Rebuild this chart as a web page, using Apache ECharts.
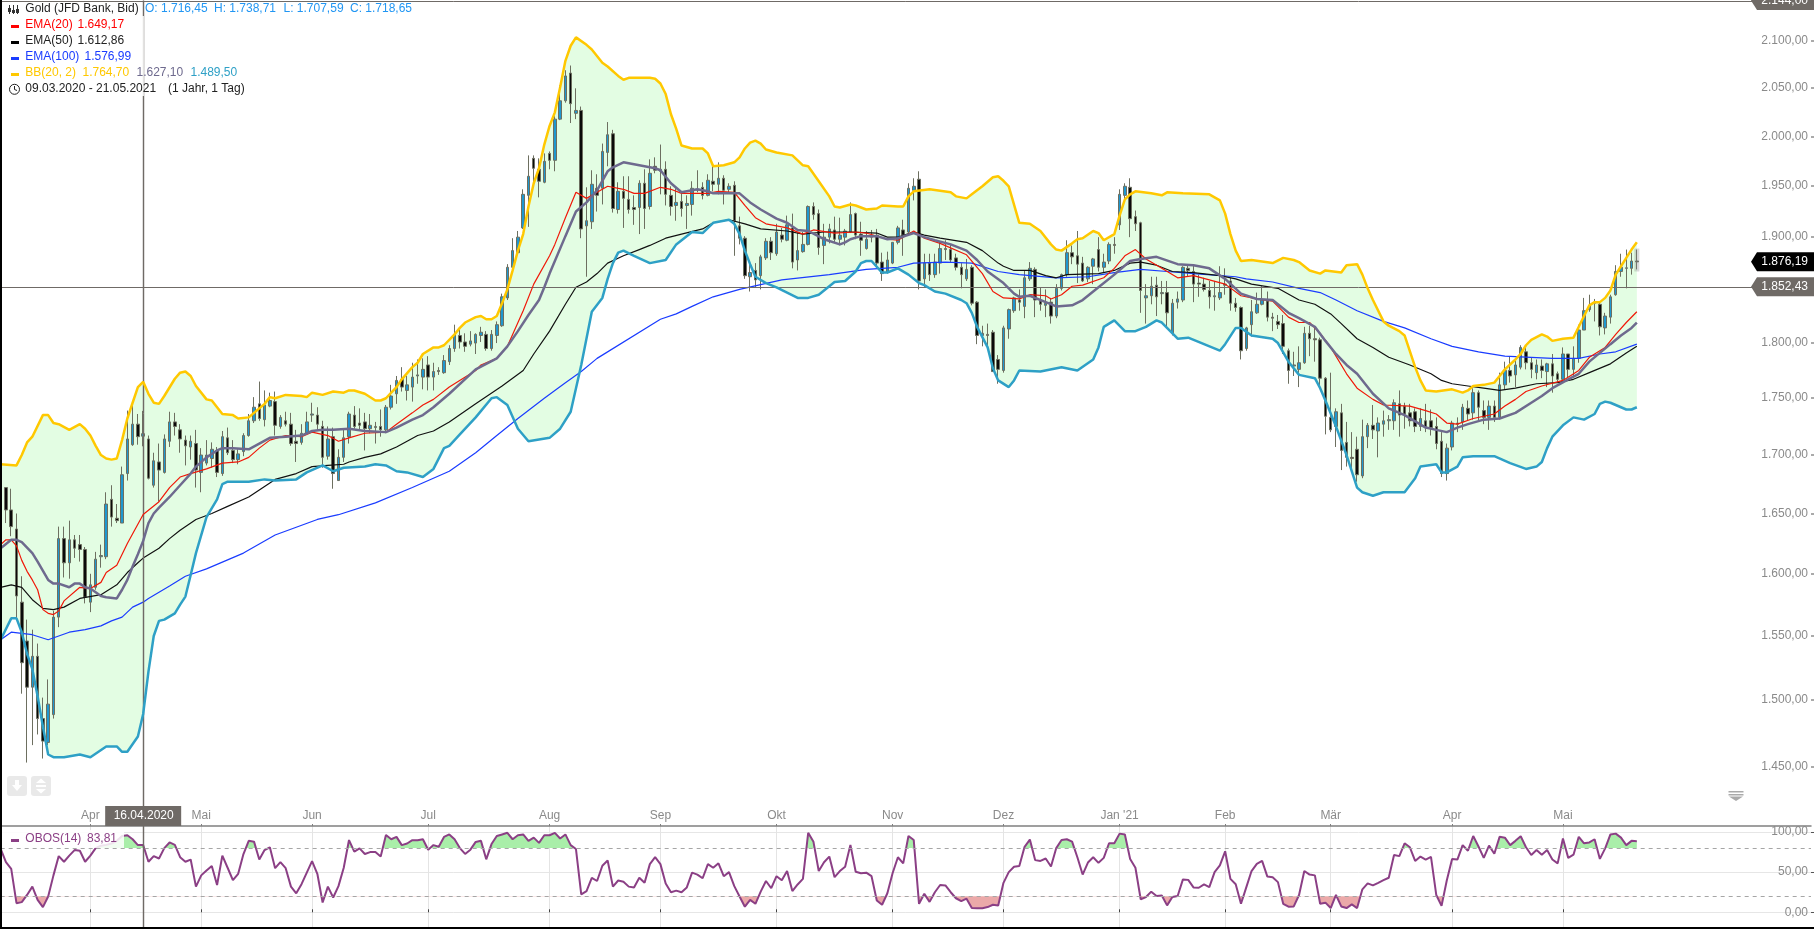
<!DOCTYPE html>
<html><head><meta charset="utf-8"><style>html,body{margin:0;padding:0;background:#fff}#c{width:1814px;height:929px}</style>
<script src="https://cdn.jsdelivr.net/npm/echarts@6/dist/echarts.min.js"></script></head>
<body><div id="c"></div><script>
const tickIndex=[17,38,59,81,104,125,147,169,190,212,232,252,275,296];
const tickLabels=['Apr','Mai','Jun','Jul','Aug','Sep','Okt','Nov','Dez',"Jan '21",'Feb','Mär','Apr','Mai'];
const priceTicks=[1450,1500,1550,1600,1650,1700,1750,1800,1850,1900,1950,2000,2050,2100];
// rows: open, close, high, low
const candles=[
[1698,1672,1702,1658],[1672,1653,1672,1642],[1653,1639,1671,1631],[1637,1582,1650,1564],[1577,1529,1598,1505],[1546,1510,1563,1453],[1510,1534,1555,1466],[1534,1486,1544,1474],[1486,1469,1502,1456],[1468,1497,1516,1466],
[1489,1565,1570,1486],[1565,1629,1639,1557],[1629,1609,1639,1597],[1609,1628,1644,1596],[1628,1621,1632,1613],[1624,1620,1632,1610],[1620,1581,1622,1576],[1577,1591,1600,1569],[1589,1612,1618,1587],[1614,1615,1624,1605],
[1614,1658,1668,1612],[1662,1647,1674,1639],[1646,1644,1658,1642],[1642,1683,1690,1642],[1684,1714,1739,1678],[1709,1727,1745,1708],[1727,1716,1736,1709],[1716.45,1718.65,1738.71,1707.59],[1714,1680,1717,1679],[1674,1695,1702,1672],
[1694,1687,1710,1660],[1685,1714,1718,1684],[1712,1729,1738,1707],[1729,1725,1737,1717],[1722,1714,1727,1702],[1713,1708,1717,1691],[1707,1712,1717,1696],[1710,1687,1722,1672],[1685,1700,1706,1668],[1693,1700,1713,1691],
[1697,1705,1711,1689],[1704,1685,1707,1681],[1684,1716,1721,1682],[1715,1702,1724,1700],[1704,1696,1713,1693],[1696,1701,1705,1692],[1703,1717,1719,1699],[1717,1730,1736,1716],[1730,1742,1751,1728],[1745,1732,1765,1730],
[1731,1744,1757,1725],[1743,1748,1755,1742],[1747,1726,1756,1717],[1725,1733,1735,1723],[1730,1727,1738,1725],[1727,1710,1737,1708],[1712,1710,1722,1694],[1711,1719,1727,1709],[1719,1729,1738,1718],[1735,1736,1746,1729],
[1735,1727,1742,1722],[1725,1698,1730,1689],[1699,1714,1725,1696],[1716,1684,1724,1671],[1678,1698,1705,1678],[1698,1715,1723,1694],[1716,1736,1738,1710],[1735,1725,1743,1723],[1728,1726,1741,1722],[1729,1723,1737,1704],
[1723,1726,1736,1719],[1724,1725,1729,1710],[1725,1722,1740,1716],[1722,1742,1744,1719],[1742,1752,1762,1740],[1754,1766,1770,1745],[1767,1760,1778,1756],[1757,1762,1770,1748],[1760,1769,1782,1747],[1770,1771,1785,1763],
[1769,1776,1786,1758],[1780,1769,1788,1757],[1769,1774,1782,1757],[1775,1774,1778,1771],[1773,1784,1789,1772],[1783,1795,1798,1780],[1795,1808,1817,1792],[1807,1801,1814,1795],[1801,1797,1809,1792],[1799,1802,1811,1797],
[1800,1808,1809,1790],[1807,1810,1815,1801],[1808,1795,1811,1793],[1795,1808,1812,1793],[1807,1817,1820,1800],[1816,1843,1846,1815],[1842,1871,1874,1840],[1871,1887,1899,1869],[1885,1900,1906,1884],[1909,1942,1947,1908],
[1941,1960,1981,1910],[1978,1968,1981,1951],[1967,1955,1978,1939],[1954,1975,1983,1953],[1983,1976,1985,1967],[1976,2018,2021,1965],[2018,2037,2053,2017],[2037,2063,2069,2035],[2066,2034,2074,2014],[2024,2027,2050,2018],
[2027,1908,2031,1899],[1911,1916,1949,1862],[1915,1952,1966,1908],[1948,1941,1962,1925],[1948,1985,1993,1932],[1984,2002,2015,1970],[2003,1928,2007,1924],[1927,1945,1954,1923],[1945,1938,1960,1909],[1937,1927,1960,1923],
[1929,1927,1941,1912],[1929,1953,1956,1903],[1953,1928,1967,1908],[1930,1963,1977,1927],[1970,1966,1979,1963],[1965,1967,1992,1942],[1967,1942,1975,1931],[1941,1930,1950,1921],[1931,1934,1948,1916],[1935,1928,1945,1920],
[1931,1933,1941,1908],[1932,1948,1955,1921],[1946,1947,1966,1944],[1949,1941,1954,1937],[1941,1956,1962,1940],[1955,1952,1970,1945],[1952,1958,1974,1942],[1958,1946,1961,1932],[1947,1950,1953,1944],[1951,1916,1955,1882],
[1911,1899,1920,1893],[1899,1863,1901,1860],[1862,1866,1876,1848],[1868,1859,1875,1852],[1863,1881,1883,1850],[1880,1896,1899,1878],[1896,1885,1900,1878],[1884,1905,1913,1882],[1902,1898,1909,1895],[1897,1912,1921,1896],
[1909,1876,1923,1870],[1878,1887,1905,1868],[1886,1893,1905,1885],[1893,1930,1931,1892],[1930,1922,1934,1917],[1923,1890,1927,1883],[1892,1900,1913,1874],[1900,1908,1913,1894],[1907,1898,1920,1895],[1898,1902,1919,1892],
[1900,1906,1908,1892],[1905,1922,1934,1904],[1923,1902,1924,1898],[1903,1897,1915,1882],[1889,1898,1906,1888],[1900,1901,1907,1895],[1902,1875,1908,1872],[1876,1865,1885,1858],[1866,1878,1886,1865],[1875,1895,1895,1874],
[1895,1909,1911,1893],[1907,1902,1917,1882],[1905,1948,1953,1904],[1946,1950,1958,1936],[1957,1858,1965,1850],[1860,1875,1884,1852],[1875,1864,1884,1858],[1864,1876,1884,1861],[1875,1889,1896,1865],[1889,1888,1897,1878],
[1888,1878,1893,1876],[1880,1871,1884,1868],[1871,1864,1875,1851],[1860,1869,1879,1858],[1871,1837,1873,1835],[1838,1807,1839,1799],[1807,1809,1816,1797],[1808,1807,1818,1795],[1810,1774,1812,1774],[1785,1776,1789,1763],
[1775,1814,1816,1773],[1813,1831,1832,1804],[1830,1842,1843,1828],[1840,1838,1850,1830],[1834,1861,1868,1823],[1860,1870,1876,1858],[1869,1840,1871,1824],[1839,1836,1852,1830],[1835,1837,1850,1824],[1838,1825,1842,1818],
[1825,1851,1855,1823],[1851,1864,1865,1849],[1864,1885,1897,1862],[1885,1881,1892,1874],[1882,1874,1906,1856],[1875,1858,1881,1857],[1860,1871,1872,1857],[1872,1879,1880,1855],[1888,1871,1900,1867],[1871,1876,1884,1866],
[1877,1893,1895,1874],[1893,1892,1900,1884],[1912,1942,1947,1907],[1941,1950,1953,1936],[1949,1918,1958,1900],[1920,1913,1926,1906],[1914,1849,1915,1828],[1842,1844,1855,1818],[1844,1853,1862,1836],[1854,1843,1862,1825],
[1846,1847,1858,1836],[1847,1828,1858,1815],[1809,1837,1841,1807],[1838,1841,1848,1832],[1840,1871,1872,1838],[1870,1868,1873,1862],[1867,1855,1873,1838],[1856,1855,1864,1843],[1855,1850,1861,1848],[1849,1843,1858,1832],
[1843,1844,1858,1830],[1842,1847,1872,1840],[1855,1854,1870,1845],[1858,1837,1861,1830],[1837,1833,1842,1829],[1833,1793,1834,1785],[1795,1814,1815,1793],[1817,1829,1840,1806],[1828,1836,1847,1827],[1836,1840,1853,1835],
[1839,1824,1848,1820],[1824,1823,1828,1811],[1820,1817,1826,1813],[1818,1797,1826,1790],[1793,1775,1795,1763],[1779,1780,1792,1770],[1776,1782,1797,1760],[1782,1809,1815,1781],[1809,1804,1816,1788],[1804,1803,1815,1783],
[1803,1768,1805,1761],[1768,1734,1769,1718],[1733,1722,1773,1720],[1725,1738,1741,1707],[1737,1704,1745,1687],[1711,1698,1729,1690],[1698,1697,1720,1687],[1705,1683,1716,1677],[1682,1716,1731,1680],[1716,1726,1728,1706],
[1726,1722,1744,1714],[1721,1728,1733,1698],[1727,1730,1739,1716],[1730,1731,1735,1722],[1730,1746,1749,1722],[1745,1735,1757,1716],[1743,1736,1746,1723],[1737,1730,1745,1725],[1738,1725,1741,1720],[1725,1732,1741,1721],
[1730,1724,1745,1720],[1730,1724,1740,1717],[1725,1710,1733,1705],[1712,1684,1720,1681],[1684,1706,1710,1678],[1707,1728,1730,1704],[1728,1727,1733,1720],[1729,1742,1745,1722],[1741,1736,1748,1730],[1737,1755,1759,1731],
[1755,1742,1757,1730],[1739,1733,1748,1727],[1733,1743,1748,1722],[1743,1733,1748,1729],[1733,1762,1773,1731],[1762,1775,1783,1758],[1775,1770,1788,1764],[1771,1780,1786,1760],[1778,1796,1798,1776],[1792,1782,1798,1776],
[1782,1776,1787,1768],[1773,1780,1785,1767],[1779,1775,1785,1768],[1774,1781,1782,1760],[1781,1770,1790,1755],[1772,1767,1774,1764],[1767,1790,1796,1764],[1790,1776,1790,1768],[1776,1786,1797,1768],[1786,1812,1817,1782],
[1812,1830,1842,1812],[1831,1835,1845,1829],[1838,1837,1841,1820],[1836,1815,1838,1807],[1814,1825,1828,1808],[1824,1843,1845,1818],[1845,1867,1873,1844],[1867,1871,1884,1862],[1870,1870.5,1888,1851],[1870,1877,1885,1864],
[1877,1876.19,1888,1869]];
const obos=[
79,62.5,54,11.4,12.7,21.6,32,15.5,6.5,19.6,46,70,63,70.6,77.5,76.7,63,70.6,80,83,
84,85.7,89,95,96,91,83.7,83.81,63,70,67,80,87,84,68.6,63,65.7,32,46,52,
57.6,34,70.6,55.5,40,48,72.6,89,88,65.7,77.5,81,55,62.5,55,32,23.7,35,49.4,63.7,
48,12.2,32,18.4,32.6,55.5,90,75.5,79.6,72.6,75,75,69.4,96.3,91,94,83.7,85.7,89.8,89.8,
91,78,83.7,81.6,93.9,97,91,80,72.7,78,87.7,89,66,85,95,97,99,91,96,97,
89,93,86.5,96,96,99,92,97,83.7,78.8,22.4,26.5,43,39,58,64.5,32,39.6,38,32,
31,43,36.7,60,68.6,60,36,25,27,25,31,49.4,47,42.4,60,55.5,61,45,50,32.6,
19.6,7,15.5,10.6,25.7,39,30,45,40,51.4,26.5,34.7,41.6,99,87.8,51.4,62.4,69.4,43.7,51.4,
56.7,84,50.6,48.6,49.4,45,14.7,9.4,23.7,49,68.6,61,95,90,10.6,23,13,25,34,33.5,
25,17.5,14,17,5.3,5,5,6.5,9.4,8.6,36.7,50,56.7,57.6,81.6,90.6,65,64,67,57,
80,90,91,88,68.6,47,62,68.6,61.6,67.8,86,86,98,97,66.5,55.5,16.3,19,25.7,20.4,
21,8.6,19,20.4,41,40.4,31,30.6,34.7,31.4,50,58.4,76,41.6,35,10.6,31,51.4,60.4,64,
44.5,43.7,37.6,10.6,7,7.3,21.6,51.4,47,46,10.6,12,5.3,21.6,7.3,5.3,9.8,5.3,28.6,36,
33.5,36.7,40,43,71.4,70,86,81,64,69.4,65.7,69,21.6,8,40,66.5,65.7,83.7,76.7,95,
82,67.8,83,73,94,93,83.7,89,94.7,81,71.4,77.5,71.8,77.5,65.7,61,92,67.8,71.8,94,
86,87,91,66.5,79.6,97,98,93,83.7,89,88.6];
const bbUpper=[[0,1692],[3,1691],[4,1700],[5,1711],[6,1716],[8,1735],[9,1735],[10,1728],[11,1727],[13,1722],[15,1727],[16,1723],[17,1717],[18,1708],[19,1700],[20,1697],[21,1696],[22,1697],[23,1713],[24,1732],[25,1746],[26,1760],[27,1764.7],[28,1754],[29,1746],[30,1745],[31,1752],[33,1767.5],[34,1773],[35,1774],[36,1770],[37,1761],[39,1749],[40,1748],[41,1742],[42,1736],[44,1735],[45,1732],[47,1733],[48,1737],[50,1745],[51,1751],[52,1750],[54,1753],[57,1752],[58,1751],[59,1755],[61,1753],[63,1756],[65,1755],[66,1757],[67,1757],[69,1754],[71,1748],[72,1748],[73,1750],[74,1755],[75,1760],[76,1767],[78,1778],[79,1782],[80,1790],[82,1796],[83,1796],[84,1798],[85,1803],[86,1808],[87,1814],[88,1819],[90,1824],[91,1825],[92,1822],[93,1822],[94,1825],[95,1837],[96,1850],[97,1868],[98,1887],[99,1903],[100,1930],[101,1953],[102,1968],[103,1992],[104,2011],[105,2025],[106,2051],[107,2079],[108,2095],[109,2104],[111,2096],[112,2091],[114,2077],[115,2073],[117,2063],[118,2059],[119,2061],[123,2061],[124,2060],[125,2055],[126,2044],[127,2023],[128,2008],[129,1991],[131,1988],[133,1988],[134,1983],[135,1970],[137,1971],[139,1974],[140,1979],[141,1988],[142,1994],[143,1996],[144,1993],[145,1987],[147,1984],[150,1981],[152,1971],[153,1970],[155,1955],[157,1940],[158,1930],[159,1929],[161,1932],[162,1931],[164,1927],[166,1928],[167,1931],[170,1930],[171,1930],[172,1940],[173,1945],[176,1947],[180,1944],[181,1940],[183,1938],[184,1942],[186,1950],[188,1959],[189,1960],[190,1955.5],[191,1950],[193,1914],[195,1913],[197,1906],[199,1893],[200,1888],[201,1887],[203,1894],[204,1898],[205,1899],[207,1906],[208,1904],[209,1897],[211,1903],[212,1921],[213,1937],[214,1942],[215,1945],[218,1943],[220,1941],[221,1944],[224,1943],[229,1942],[231,1936],[232,1923],[233,1903],[234,1887],[235,1877],[237,1878],[241,1875],[243,1880],[245,1878],[246,1876],[248,1868],[250,1865],[251,1868],[254,1866],[255,1873],[257,1874],[258,1864],[259,1851],[260,1840],[262,1820],[263,1816],[265,1811],[266,1807],[268,1778],[269,1766],[270,1757],[272,1756],[275,1758],[277,1755],[278,1757],[279,1761],[281,1762],[283,1764],[284,1770],[285,1776],[287,1785],[288,1790],[289,1798],[290,1803],[292,1808],[293,1806],[294,1802],[296,1804],[298,1805],[299,1815],[300,1825],[301,1835],[302,1838],[303,1838],[304,1842],[305,1849],[306,1864],[307,1872],[308,1880],[309,1888],[310,1895]];
const bbLower=[[0,1547],[2,1564],[3,1564],[4,1553],[5,1536],[6,1524],[7,1503],[8,1480],[9,1459],[10,1457],[12,1457],[15,1459],[17,1457],[20,1465],[22,1465],[23,1461],[24,1461],[26,1472.5],[27,1489.5],[28,1522],[29,1550],[30,1562],[31,1563],[33,1568],[34,1575],[35,1581.5],[36,1599],[37,1617],[39,1647],[41,1662],[42,1675],[43,1677],[47,1677],[50,1679],[52,1678],[56,1679],[58,1685],[61,1691],[63,1686],[65,1689],[69,1690],[71,1692],[73,1691],[75,1686],[77,1685],[80,1681],[82,1688],[84,1706],[85,1708],[87,1718],[90,1733],[93,1750],[94,1751],[96,1744],[98,1723],[100,1712],[104,1715],[106,1723],[108,1738],[110,1780],[112,1829],[114,1842],[115,1860],[116,1875],[117,1885],[118,1887],[120,1882],[123,1875],[126,1878],[128,1893],[131,1905],[133,1904],[135,1914],[138,1917],[139,1913],[140,1903],[141,1887],[142,1874],[143,1862],[145,1856],[147,1852],[149,1847],[151,1842],[153,1842],[155,1845],[158,1857],[160,1858],[162,1867],[163,1875],[164,1877],[165,1877],[167,1866],[168,1866],[170,1870],[172,1864],[174,1856],[175,1854],[177,1848],[179,1846],[182,1840],[183,1837],[184,1828],[185,1815],[187,1796],[188,1777],[189,1766],[191,1760],[192,1766],[193,1775],[197,1774],[201,1778],[204,1775],[207,1785],[208,1796],[209,1815],[211,1821],[213,1811],[215,1811],[217,1815],[219,1821],[220,1819],[223,1804],[225,1805],[228,1799],[231,1793],[232,1799],[234,1814],[235,1814],[237,1807],[241,1804],[242,1800],[244,1783],[246,1771],[249,1768],[250,1759],[251,1748],[253,1725],[255,1700],[257,1672],[258,1668],[260,1665],[262,1668],[266,1668],[268,1680],[269,1690],[272,1692],[273,1685],[274,1685],[276,1690],[277,1698],[279,1699],[283,1699],[286,1693],[289,1688],[291,1690],[292,1694],[293,1706],[294,1716],[296,1726],[298,1733],[300,1731],[302,1736],[303,1745],[304,1747],[305,1746],[308,1740],[309,1740],[310,1742]];
const bbMid=[[0,1621],[2,1628],[3,1628],[4,1626],[6,1617],[7,1610],[9,1595],[10,1592],[11,1592],[13,1589],[14,1592],[15,1592],[16,1589],[17,1588],[18,1585],[19,1582],[20,1581],[22,1580],[23,1587],[24,1595],[25,1606],[26,1616],[27,1627.1],[28,1642],[29,1650],[30,1655],[32,1664],[34,1674],[36,1684],[37,1690],[39,1698],[41,1704],[42,1706],[44,1706],[47,1705],[49,1710],[51,1715],[54,1716],[57,1717],[59,1721],[61,1722],[63,1722],[66,1723],[69,1721],[73,1720],[75,1724],[78,1731],[80,1735],[82,1742],[85,1754],[90,1776],[92,1781],[94,1786],[96,1797],[98,1811],[100,1826],[102,1840],[103,1852],[104,1865],[107,1901],[109,1925],[111,1934],[113,1946],[115,1965],[116,1969],[118,1974],[121,1971],[124,1968],[125,1966],[127,1953],[129,1944],[132,1947],[134,1945],[135,1943],[140,1943],[142,1934],[144,1927],[147,1918],[149,1914],[151,1907],[153,1906],[156,1898],[159,1893],[160,1895],[161,1898],[163,1901],[166,1901],[168,1898],[170,1899],[173,1904],[175,1900],[177,1897],[180,1893],[183,1887],[185,1878],[187,1867],[190,1856],[192,1846],[193,1843],[195,1844],[198,1838],[200,1834],[203,1835],[205,1840],[208,1852],[211,1864],[214,1877],[216,1879],[219,1881],[223,1874],[226,1873],[229,1870],[232,1860],[235,1846],[238,1841],[241,1840],[244,1828],[246,1823],[249,1815],[251,1802],[253,1790],[255,1780],[257,1772],[260,1754],[263,1741],[266,1735],[270,1724],[272,1722],[274,1720],[276,1724],[278,1727],[281,1731],[284,1732],[287,1737],[290,1746],[292,1752],[294,1759],[297,1767],[299,1772],[301,1783],[303,1791],[305,1799],[307,1807],[309,1814],[310,1819]];
const ema20=[[0,1624],[1,1628],[2,1628],[3,1623],[4,1611],[5,1602],[6,1595],[7,1587],[8,1571],[9,1568],[10,1567],[11,1570],[12,1578],[15,1589],[17,1588],[19,1593],[20,1601],[22,1607],[24,1625],[27,1649.17],[30,1660],[32,1672],[34,1681],[36,1684],[39,1688],[42,1693],[45,1694],[47,1698],[49,1706],[51,1713],[54,1717],[57,1716],[59,1720],[62,1717],[64,1712],[66,1715],[69,1719],[73,1720],[75,1727],[78,1737],[80,1744],[82,1749],[85,1760],[90,1775],[91,1780],[94,1786],[96,1797],[97,1808],[99,1830],[101,1855],[104,1882],[105,1893],[107,1919],[109,1944],[111,1938],[113,1944],[115,1950],[118,1947],[120,1943],[122,1943],[125,1949],[127,1947],[129,1943],[134,1943],[136,1945],[139,1944],[141,1931],[143,1919],[145,1913],[149,1909],[152,1903],[154,1907],[158,1904],[162,1905],[164,1904],[168,1898],[170,1897],[173,1906],[175,1899],[178,1894],[183,1883],[186,1865],[188,1848],[190,1842],[193,1841],[195,1845],[198,1844],[199,1841],[201,1845],[203,1853],[205,1854],[209,1861],[211,1870],[213,1882],[215,1888],[217,1879],[220,1870],[223,1861],[226,1863],[229,1859],[232,1855],[235,1844],[238,1841],[241,1839],[244,1824],[246,1819],[248,1819],[250,1809],[252,1796],[255,1772],[257,1759],[260,1749],[262,1744],[267,1743],[270,1739],[272,1736],[274,1728],[276,1727],[279,1732],[283,1736],[285,1743],[287,1749],[289,1756],[292,1761],[296,1766],[299,1775],[301,1787],[304,1796],[306,1808],[308,1819],[310,1829]];
const ema50=[[0,1589],[2,1591],[4,1589],[6,1579],[8,1572],[10,1571],[12,1573],[15,1580],[19,1583],[22,1591],[24,1601],[26,1609],[27,1612.86],[30,1621],[32,1629],[34,1636],[37,1645],[40,1650],[43,1656],[47,1664],[50,1673],[52,1679],[56,1684],[59,1690],[62,1691],[65,1692],[66,1694],[69,1698],[72,1701],[75,1707],[79,1717],[82,1721],[85,1729],[90,1745],[95,1761],[99,1775],[101,1790],[104,1811],[107,1836],[109,1852],[111,1857],[113,1865],[115,1875],[118,1882],[121,1888],[123,1892],[126,1899],[129,1903],[133,1908],[135,1914],[138,1917],[141,1913],[144,1908],[149,1906],[152,1903],[156,1905],[161,1905],[166,1904],[168,1900],[170,1900],[173,1905],[175,1902],[178,1899],[183,1895],[186,1887],[189,1875],[190,1872],[192,1868],[195,1868],[198,1863],[200,1861],[202,1864],[208,1865],[211,1868],[214,1875],[216,1876],[219,1873],[222,1867],[226,1866],[231,1863],[234,1860],[237,1855],[242,1851],[246,1840],[249,1836],[252,1827],[254,1818],[257,1804],[260,1796],[263,1787],[267,1780],[271,1772],[273,1766],[275,1763],[278,1761],[281,1759],[284,1757],[287,1759],[291,1763],[295,1764],[298,1767],[301,1773],[305,1781],[308,1791],[310,1797]];
const ema100=[[0,1547],[2,1553],[6,1551],[9,1547],[13,1553],[16,1555],[19,1558],[21,1562],[23,1565],[25,1573],[27,1576.99],[28,1580],[32,1590],[35,1598],[39,1604],[46,1617],[52,1632],[60,1645],[64,1649],[71,1659],[78,1672],[85,1686],[90,1702],[94,1717],[98,1732],[103,1750],[107,1764],[110,1774],[113,1786],[125,1822],[128,1827],[131,1834],[135,1843],[140,1850],[148,1859],[157,1864],[164,1869],[170,1871],[173,1875],[179,1876],[184,1875],[189,1867],[193,1864],[200,1861],[206,1862],[211,1866],[216,1869],[221,1867],[226,1865],[234,1862],[236,1860],[241,1857],[246,1851],[250,1847],[253,1840],[257,1830],[262,1820],[266,1814],[271,1804],[275,1797],[280,1792],[285,1788],[294,1786],[299,1786],[303,1790],[306,1792],[310,1799]];

const GRID_W=1810.33, N=344, OB_MIN=-18.3, OB_MAX=107.5, P_MIN=1406.7, P_MAX=2144;
const fmt=v=>{const s=v.toFixed(2).split('.');return s[0].replace(/\B(?=(\d{3})+$)/g,'.')+','+s[1]};
const categories=Array.from({length:N},(_,i)=>String(i));
const tickSet=new Map(tickIndex.map((t,k)=>[t,tickLabels[k]]));
const C_GRAY='#6f6a66',C_TICK='#8a8a8a',FONT='12px "Liberation Sans",Arial,sans-serif';
const f80=(OB_MAX-80)/(OB_MAX-OB_MIN), f20=(OB_MAX-20)/(OB_MAX-OB_MIN);
const green=new echarts.graphic.LinearGradient(0,826,0,927,[{offset:0,color:'#a9eea9'},{offset:f80,color:'#a9eea9'},{offset:f80,color:'rgba(0,0,0,0)'},{offset:1,color:'rgba(0,0,0,0)'}],true);
const red=new echarts.graphic.LinearGradient(0,826,0,927,[{offset:0,color:'rgba(0,0,0,0)'},{offset:f20,color:'rgba(0,0,0,0)'},{offset:f20,color:'#eba9a9'},{offset:1,color:'#eba9a9'}],true);
const line=(name,data,color,width,z)=>({name,type:'line',data,xAxisIndex:0,yAxisIndex:0,symbol:'none',silent:true,z,lineStyle:{color,width},itemStyle:{color}});
const tag=(y,txt,fill)=>({type:'group',children:[
 {type:'polygon',shape:{points:[[1751,y],[1757,y-9.5],[1814,y-9.5],[1814,y+9.5],[1757,y+9.5]]},style:{fill}},
 {type:'text',style:{text:txt,x:1808,y,align:'right',verticalAlign:'middle',fill:'#fff',font:FONT}}]});
const option={animation:false,backgroundColor:'#fff',tooltip:{show:false},
 grid:[{left:0.67,top:0.5,width:GRID_W,height:825.5},{left:0.67,top:826,width:GRID_W,height:101}],
 xAxis:[
  {type:'category',gridIndex:0,data:categories,boundaryGap:false,
   axisLine:{lineStyle:{color:'#808080',width:1.5}},
   axisTick:{inside:true,length:2,interval:i=>tickSet.has(i),lineStyle:{color:'#808080'}},
   axisLabel:{inside:true,margin:4,color:'#8a8a8a',fontFamily:'"Liberation Sans",Arial',fontSize:12,hideOverlap:false,interval:i=>tickSet.has(i),formatter:(v,i)=>tickSet.get(i)||''},splitLine:{show:false}},
  {type:'category',gridIndex:1,data:categories,boundaryGap:false,
   axisLine:{show:false},axisTick:{inside:true,length:3,interval:i=>tickSet.has(i),lineStyle:{color:'#444'}},axisLabel:{show:false},
   splitLine:{show:true,interval:i=>tickSet.has(i),lineStyle:{color:'#e4e4e4',width:1}}}],
 yAxis:[
  {type:'log',gridIndex:0,position:'right',min:P_MIN,max:P_MAX,axisLine:{show:false},axisTick:{show:false},axisLabel:{show:false},splitLine:{show:false}},
  {type:'value',gridIndex:1,position:'right',min:OB_MIN,max:OB_MAX,axisLine:{show:false},
   axisTick:{show:true,length:3,customValues:[0,50,100],lineStyle:{color:'#555'}},
   axisLabel:{inside:true,margin:3,customValues:[0,50,100],color:C_TICK,fontFamily:'"Liberation Sans",Arial',fontSize:12,formatter:v=>fmt(v)},
   splitLine:{show:true,customValues:[0,50,100],lineStyle:{color:'#e6e6e6'}}}],
 series:[
  {name:'Band',type:'custom',xAxisIndex:0,yAxisIndex:0,clip:true,silent:true,z:1,data:[[0,1800]],encode:{x:0,y:1},
   renderItem:(p,api)=>{const pts=bbUpper.concat(bbLower.slice().reverse()).map(d=>api.coord(d));
    return {type:'polygon',shape:{points:pts},style:{fill:'#e3fde3'}}}},
  {name:'Gold',type:'candlestick',xAxisIndex:0,yAxisIndex:0,barWidth:3,z:2,silent:true,clip:true,
   data:candles.map(r=>[r[0],r[1],Math.min(r[0],r[1],r[3]),Math.max(r[0],r[1],r[2])]),
   itemStyle:{color:'#1f97cf',color0:'#0a0a0a',borderColor:'#6d6f60',borderColor0:'#6d6f60',borderWidth:1},
   markLine:{silent:true,symbol:'none',animation:false,label:{show:false},lineStyle:{type:'solid',color:C_GRAY,width:1},
    data:[{yAxis:1852.43},{yAxis:2143},{xAxis:27,lineStyle:{type:'solid',color:'rgba(110,106,102,.22)',width:3}},{xAxis:27}]}},
  line('EMA(100)',ema100,'#1a3cff',1.2,3),
  line('EMA(50)',ema50,'#111',1.2,4),
  line('EMA(20)',ema20,'#f01808',1.2,5),
  line('BB upper',bbUpper,'#ffc800',2.5,6),
  line('BB lower',bbLower,'#2ea0c6',2.5,6),
  line('BB mid',bbMid,'#6e6a8e',2.5,6),
  {name:'Axis',type:'custom',xAxisIndex:0,yAxisIndex:0,clip:false,silent:true,z:8,data:priceTicks.map(v=>[0,v]),encode:{x:0,y:1},
   renderItem:(p,api)=>{const v=api.value(1),y=Math.round(api.coord([0,v])[1]);return {type:'group',children:[
    {type:'text',style:{text:fmt(v),x:1808,y,align:'right',verticalAlign:'middle',fill:C_TICK,font:FONT}},
    {type:'rect',shape:{x:1811,y:y-0.5,width:3,height:1},style:{fill:'#555'}}]}}},
  {name:'Tags',type:'custom',xAxisIndex:0,yAxisIndex:0,clip:false,silent:true,z:9,data:[[0,2144,C_GRAY],[0,1852.43,C_GRAY],[0,1876.19,'#000']],encode:{x:0,y:1},
   renderItem:(p,api)=>{const v=api.value(1);return tag(api.coord([0,v])[1],fmt(v),[C_GRAY,C_GRAY,'#000'][p.dataIndex])}},
  {name:'Date',type:'custom',xAxisIndex:0,yAxisIndex:0,clip:false,silent:true,z:9,data:[[27,P_MIN]],encode:{x:0,y:1},
   renderItem:(p,api)=>{const c=api.coord([api.value(0),api.value(1)]);return {type:'group',children:[
    {type:'rect',shape:{x:c[0]-38,y:c[1]-20,width:76,height:20},style:{fill:C_GRAY}},
    {type:'text',style:{text:'16.04.2020',x:c[0]+0.5,y:c[1]-10,align:'center',verticalAlign:'middle',fill:'#fff',font:FONT}}]}}},
  {name:'Last',type:'custom',xAxisIndex:0,yAxisIndex:0,clip:false,silent:true,z:3,data:[[310,1889,1867]],encode:{x:0,y:1},
   renderItem:(p,api)=>{const a=api.coord([310,api.value(1)]),b=api.coord([310,api.value(2)]);
    return {type:'rect',shape:{x:a[0]-2.5,y:a[1],width:5,height:b[1]-a[1]},style:{fill:'rgba(130,130,130,.3)'}}}},
  {name:'OBOS hi',type:'line',xAxisIndex:1,yAxisIndex:1,data:obos,symbol:'none',silent:true,z:2,lineStyle:{width:0},areaStyle:{origin:80,color:green,opacity:1}},
  {name:'OBOS lo',type:'line',xAxisIndex:1,yAxisIndex:1,data:obos,symbol:'none',silent:true,z:2,lineStyle:{width:0},areaStyle:{origin:20,color:red,opacity:1}},
  {name:'OBOS(14)',type:'line',xAxisIndex:1,yAxisIndex:1,data:obos,symbol:'none',silent:true,z:3,lineStyle:{color:'#8b3f85',width:2},
   markLine:{silent:true,symbol:'none',animation:false,label:{show:false},
    data:[{yAxis:80,lineStyle:{type:[4,4],color:'#a6a6a6',width:1}},{yAxis:20,lineStyle:{type:[4,4],color:'#a6a6a6',width:1}},
     {xAxis:27,lineStyle:{type:'solid',color:'rgba(110,106,102,.22)',width:3}},{xAxis:27,lineStyle:{type:'solid',color:C_GRAY,width:1}}]}}
 ],
 graphic:{elements:(()=>{
  const T=(x,y,text,fill)=>({type:'text',x,y,z:101,silent:true,style:{text,fill,font:FONT,verticalAlign:'middle'}});
  const R=(x,y,w,h,fill,r)=>({type:'rect',silent:true,z:101,shape:{x,y,width:w,height:h,r:r||0},style:{fill}});
  const P=(pts,fill)=>({type:'polygon',silent:true,z:102,shape:{points:pts},style:{fill}});
  return [
   R(2,16,142,80,'rgba(255,255,255,.8)'),
   R(2,830,122,18,'rgba(255,255,255,.85)'),
   T(25.3,8.7,'Gold (JFD Bank, Bid)','#222'),T(145,8.7,'O: 1.716,45','#2196f3'),T(214,8.7,'H: 1.738,71','#2196f3'),T(283.5,8.7,'L: 1.707,59','#2196f3'),T(350,8.7,'C: 1.718,65','#2196f3'),
   T(25.3,24.7,'EMA(20)','#f00'),T(77.5,24.7,'1.649,17','#f00'),
   T(25.3,40.7,'EMA(50)','#222'),T(77.5,40.7,'1.612,86','#222'),
   T(25.3,56.7,'EMA(100)','#1a3cff'),T(84.5,56.7,'1.576,99','#1a3cff'),
   T(25.3,72.7,'BB(20, 2)','#ffc800'),T(82.5,72.7,'1.764,70','#ffc800'),T(136.5,72.7,'1.627,10','#6e6a8e'),T(190.5,72.7,'1.489,50','#2ea0c6'),
   T(25.3,88.7,'09.03.2020 - 21.05.2021','#222'),T(168,88.7,'(1 Jahr, 1 Tag)','#222'),
   T(25.3,839,'OBOS(14)','#8b3f85'),T(87,839,'83,81','#8b3f85'),
   R(11,25,8,3,'#f00'),R(11,41,8,3,'#000'),R(11,57,8,3,'#1a3cff'),R(11,73,8,3,'#ffc800'),R(11,839,8,3,'#8b3f85'),
   {type:'circle',silent:true,z:101,shape:{cx:14.5,cy:89.3,r:5},style:{fill:'none',stroke:'#222',lineWidth:1}},
   {type:'polyline',silent:true,z:101,shape:{points:[[14.5,86],[14.5,89.5],[17,90.5]]},style:{stroke:'#222',fill:'none',lineWidth:1}},
   R(9,5,1,9,'#333'),R(13,5,1,9,'#333'),R(17,5,1,9,'#333'),R(8,8,3,4,'#333'),R(12,10,3,3,'#333'),R(16,9,3,4,'#333'),
   R(0,0,2,929,'#000'),R(0,927,1814,2,'#000'),
   R(7,776,20,20,'#e9e9e9',3),R(31,776,20,20,'#e9e9e9',3),
   P([[12,785],[22,785],[17,791]],'#fff'),R(15,780,4,6,'#fff'),
   P([[36,783],[46,783],[41,778.5]],'#fff'),R(36,785,10,2,'#fff'),P([[36,789],[46,789],[41,793.5]],'#fff'),
   R(1728.5,791,15,1.5,'#aaa'),R(1728.5,794,15,1.5,'#aaa'),P([[1729,796.5],[1743,796.5],[1736,801]],'#aaa')];
 })()}
};
const chart=echarts.init(document.getElementById('c'),null,{renderer:'canvas',width:1814,height:929});
chart.setOption(option);
</script></body></html>
